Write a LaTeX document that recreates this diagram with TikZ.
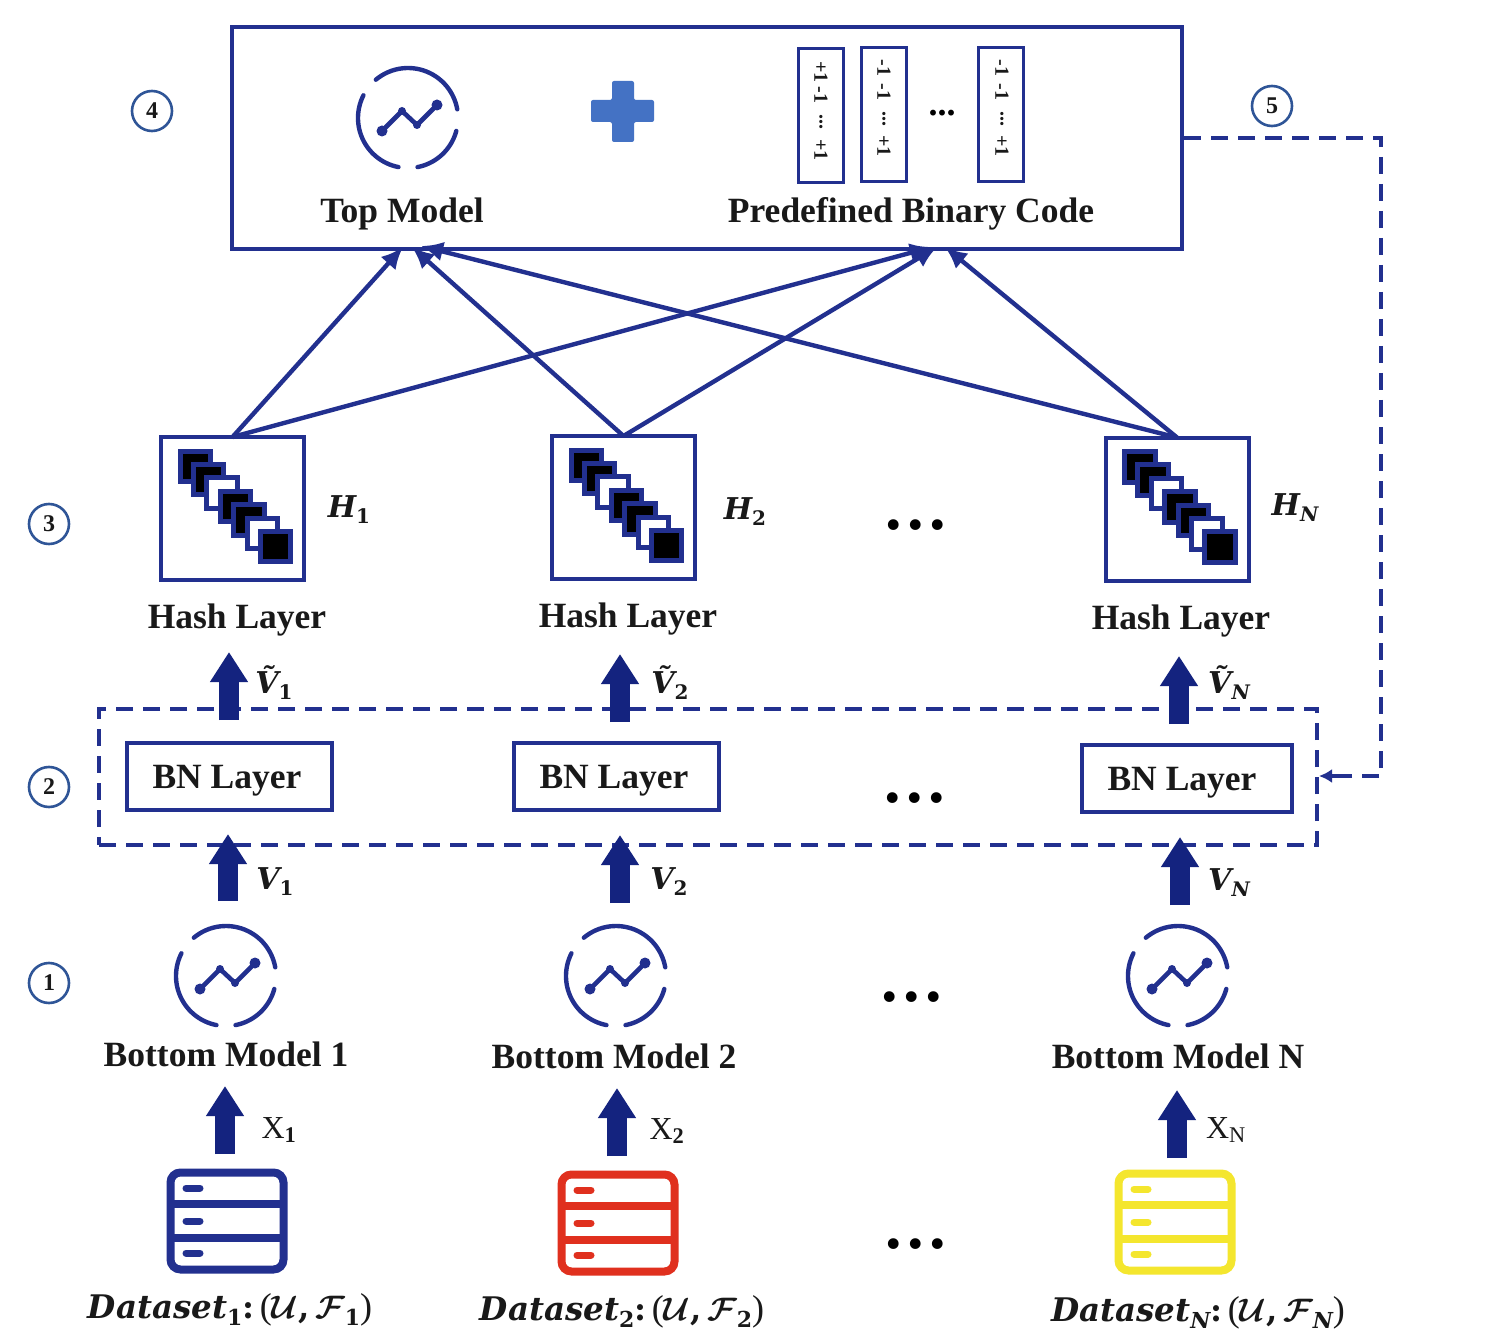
\documentclass[tikz,border=0pt]{standalone}
\usepackage{fix-cm}
\usepackage{amsmath}
\usepackage{bm}
\usepackage{fontspec}
\setmainfont{Liberation Serif}
\newfontfamily\dvs{DejaVu Serif}
\usetikzlibrary{arrows.meta,calc}
\definecolor{navy}{HTML}{22308F}
\definecolor{deep}{HTML}{14237F}
\definecolor{ringblue}{HTML}{2F5597}
\definecolor{plusblue}{HTML}{4472C4}
\definecolor{dbred}{HTML}{E0301E}
\definecolor{dbyellow}{HTML}{F4E62E}
\newcommand{\sz}[1]{\fontsize{#1}{#1}\selectfont}
\newcommand{\bi}[1]{{\dvs\bfseries\itshape #1}}
\newcommand{\bu}[1]{{\dvs\bfseries #1}}
\newcommand{\lowr}[1]{\raisebox{-6pt}{\sz{20}#1}}
\newcommand{\lowd}[1]{\raisebox{-7pt}{\sz{22}#1}}
\tikzset{
  frame/.style={draw=navy,line width=4pt,inner sep=0pt,outer sep=0pt},
  binbox/.style={frame,line width=3pt,minimum width=45pt,minimum height=134pt},
  hashbox/.style={frame,minimum width=143pt,minimum height=143pt},
  bnbox/.style={frame,minimum width=205pt,minimum height=67pt},
  lbl/.style={inner sep=0pt,font=\sz{35.5}\bfseries,text=black!90},
  mathlbl/.style={inner sep=0pt,font=\sz{30},text=black!90},
  datalbl/.style={inner sep=0pt,font=\sz{32.5},text=black!90},
  bit/.style={inner sep=0pt,rotate=-90,font=\sz{20}\bfseries,text=black!90},
  ring/.style={draw=ringblue,line width=2.6pt,circle,minimum size=40pt,inner sep=0pt,font=\sz{24}\bfseries,text=black!90},
  gapdots/.style={inner sep=0pt,anchor=base,font=\sz{66}\bfseries},
  link/.style={draw=navy,line width=4.4pt,-{Latex[length=22pt,width=20pt]}},
  blockarrow/.style={draw=deep,line width=20pt,-{Triangle[length=30pt,width=36pt]}},
  dashline/.style={draw=navy,line width=4pt,dash pattern=on 17pt off 10pt},
  modelicon/.pic={
    \foreach \a/\b in {10/130,153/259,281/345}{
      \draw[navy,line width=4.4pt,line cap=round] plot[domain=\a:\b,samples=30,smooth] ({50*cos(\x)},{-50*sin(\x)});
    }
    \draw[navy,line width=4.6pt,line join=round] (-26,13) -- (-6,-7) -- (9,7) -- (29,-13);
    \fill[navy] (-26,13) circle (5.5pt) (-6,-7) circle (4pt) (9,7) circle (4pt) (29,-13) circle (5.5pt);
  },
  dbicon/.pic={
    \draw[#1,line width=8pt,rounded corners=10pt] (-56.5,-48.5) rectangle (56.5,48.5);
    \draw[#1,line width=8pt] (-56.5,-17) -- (56.5,-17) (-56.5,17) -- (56.5,17);
    \draw[#1,line width=7pt,line cap=round] (-41,-33) -- (-27,-33) (-41,0) -- (-27,0) (-41,32) -- (-27,32);
  },
  hashicon/.pic={
    \foreach \i/\c in {0/black,1/black,2/white,3/black,4/black,5/white,6/black}{
      \draw[draw=navy,fill=\c,line width=5pt] ({-52.5+13.4*\i},{-57.5+13.4*\i}) rectangle ++(30.5,30.5);
    }
  }
}
\begin{document}
\begin{tikzpicture}[x=1pt,y=-1pt]
\useasboundingbox (0,0) rectangle (1500,1340);
\fill[white] (0,0) rectangle (1500,1340);

% top box
\node[frame,minimum width=950pt,minimum height=222pt] (top) at (707,138) {};
\pic at (408,118) {modelicon};
\node[lbl] (toplbl) at (402,214) {Top Model};
\node[lbl] (codelbl) at (911,214) {Predefined Binary Code};
\fill[plusblue,rounded corners=2pt] (591,100) -- (612,100) -- (612,81) -- (634,81) -- (634,100) -- (654,100) -- (654,122) -- (634,122) -- (634,142) -- (612,142) -- (612,122) -- (591,122) -- cycle;

\node[binbox] (b1) at (821,116) {};
\node[binbox] (b2) at (884,115) {};
\node[binbox] (b3) at (1001,115) {};
\node[bit] (b1a) at (821,72) {+1};
\node[bit] (b1b) at (821,95) {-1};
\node[bit] (b1c) at (821,122) {...};
\node[bit] (b1d) at (821,150) {+1};
\node[bit] (b2a) at (884,68) {-1};
\node[bit] (b2b) at (884,92) {-1};
\node[bit] (b2c) at (884,119) {...};
\node[bit] (b2d) at (884,146) {+1};
\node[bit] (b3a) at (1002,68) {-1};
\node[bit] (b3b) at (1002,92) {-1};
\node[bit] (b3c) at (1002,119) {...};
\node[bit] (b3d) at (1002,146) {+1};
\node[inner sep=0pt,font=\sz{36}\bfseries] (bdots) at (942,113) {...};

% rings
\node[ring] (r4) at (152,111) {4};
\node[ring] (r5) at (1272,106) {5};
\node[ring] (r3) at (49,524) {3};
\node[ring] (r2) at (49,787) {2};
\node[ring] (r1) at (49,983) {1};

% hash layers
\node[hashbox] (h1) at (232.5,508.5) {};
\node[hashbox] (h2) at (623.5,507.5) {};
\node[hashbox] (h3) at (1177,509) {};
\pic at (232.5,508.5) {hashicon};
\pic at (623.5,507.5) {hashicon};
\pic at (1177,509) {hashicon};
\node[lbl] (hl1) at (237,620) {Hash Layer};
\node[lbl] (hl2) at (628,619) {Hash Layer};
\node[lbl] (hl3) at (1181,621) {Hash Layer};
\node[mathlbl] (hm1) at (349,510) {\bi{H}\lowr{\bu{1}}};
\node[mathlbl] (hm2) at (745,512) {\bi{H}\lowr{\bu{2}}};
\node[mathlbl] (hm3) at (1295,508) {\bi{H}\lowr{\bi{N}}};

% links to the top box
\coordinate (t1) at (403,247);
\coordinate (t2) at (412,247);
\coordinate (t3) at (421,246);
\coordinate (t4) at (932,247);
\coordinate (t5) at (937,247);
\coordinate (t6) at (945,247);
\draw[link] (h1.north) -- (t1);
\draw[link] (h2.north) -- (t2);
\draw[link] (h3.north) -- (t3);
\draw[link] (h1.north) -- (t4);
\draw[link] (h2.north) -- (t5);
\draw[link] (h3.north) -- (t6);

% BN group
\node[draw=navy,line width=4pt,dash pattern=on 17pt off 10pt,inner sep=0pt,minimum width=1218pt,minimum height=136pt] (grp) at (708,777) {};
\node[bnbox] (bn1) at (229,776) {};
\node[bnbox] (bn2) at (616.5,776) {};
\node[bnbox,minimum width=210pt] (bn3) at (1186.5,778) {};
\node[lbl] (bl1) at (227,781) {BN Layer};
\node[lbl] (bl2) at (614,781) {BN Layer};
\node[lbl] (bl3) at (1182,783) {BN Layer};

% dashed feedback
\coordinate (fa) at (1184,138);
\coordinate (fb) at (1381,138);
\coordinate (fc) at (1381,776);
\coordinate (fd) at (1340,776);
\coordinate (fe) at (1319,776);
\draw[dashline] (fa) -- (fb) -- (fc) -- (fd);
\draw[draw=navy,line width=4pt,-{Latex[length=13pt,width=14pt]}] (fd) -- (fe);

% block arrows
\coordinate (u1a) at (229,720); \coordinate (u1b) at (229,652);
\coordinate (u2a) at (620,722); \coordinate (u2b) at (620,654);
\coordinate (u3a) at (1179,724); \coordinate (u3b) at (1179,656);
\coordinate (v1a) at (228,901); \coordinate (v1b) at (228,834);
\coordinate (v2a) at (620,903); \coordinate (v2b) at (620,835);
\coordinate (v3a) at (1180,905); \coordinate (v3b) at (1180,837);
\coordinate (x1a) at (225,1154); \coordinate (x1b) at (225,1086);
\coordinate (x2a) at (617,1156); \coordinate (x2b) at (617,1088);
\coordinate (x3a) at (1177,1158); \coordinate (x3b) at (1177,1090);
\foreach \n in {u1,u2,u3,v1,v2,v3,x1,x2,x3}{
  \draw[blockarrow] (\n a) -- (\n b);
}
\node[mathlbl] (ul1) at (274,683) {\bi{Ṽ}\lowr{\bu{1}}};
\node[mathlbl] (ul2) at (670,683) {\bi{Ṽ}\lowr{\bu{2}}};
\node[mathlbl] (ul3) at (1229,683) {\bi{Ṽ}\lowr{\bi{N}}};
\node[mathlbl] (vl1) at (275,882) {\bi{V}\lowr{\bu{1}}};
\node[mathlbl] (vl2) at (669,882) {\bi{V}\lowr{\bu{2}}};
\node[mathlbl] (vl3) at (1229,883) {\bi{V}\lowr{\bi{N}}};
\node[mathlbl,font=\sz{32}] (xl1) at (279,1130) {X$_{\mathbf{1}}$};
\node[mathlbl,font=\sz{32}] (xl2) at (667,1131) {X$_{\mathbf{2}}$};
\node[mathlbl,font=\sz{32}] (xl3) at (1226,1130) {X$_{\mathrm{N}}$};

% bottom models
\pic at (226,976) {modelicon};
\pic at (616,976) {modelicon};
\pic at (1178,976) {modelicon};
\node[lbl] (bm1) at (226,1054) {Bottom Model 1};
\node[lbl] (bm2) at (614,1056) {Bottom Model 2};
\node[lbl] (bm3) at (1178,1056) {Bottom Model N};

% datasets
\pic at (227,1221) {dbicon=navy};
\pic at (618,1223) {dbicon=dbred};
\pic at (1175,1222) {dbicon=dbyellow};
\node[datalbl] (d1) at (230,1310) {\bi{Dataset}\lowd{\bu{1}}\bu{:\,}{\sz{36}(}$\bm{\mathcal{U}}$\bu{,\,}$\bm{\mathcal{F}}$\lowd{\bu{1}}{\sz{36})}};
\node[datalbl] (d2) at (622,1312) {\bi{Dataset}\lowd{\bu{2}}\bu{:\,}{\sz{36}(}$\bm{\mathcal{U}}$\bu{,\,}$\bm{\mathcal{F}}$\lowd{\bu{2}}{\sz{36})}};
\node[datalbl] (d3) at (1198,1313) {\bi{Dataset}\lowd{\bi{N}}\bu{:\,}{\sz{36}(}$\bm{\mathcal{U}}$\bu{,\,}$\bm{\mathcal{F}}$\lowd{\bi{N}}{\sz{36})}};

% gap dots
\node[gapdots] (g1) at (916,529) {.\kern5.5pt.\kern5.5pt.};
\node[gapdots] (g2) at (915,802) {.\kern5.5pt.\kern5.5pt.};
\node[gapdots] (g3) at (912,1001) {.\kern5.5pt.\kern5.5pt.};
\node[gapdots] (g4) at (916,1248) {.\kern5.5pt.\kern5.5pt.};
\end{tikzpicture}
\end{document}
